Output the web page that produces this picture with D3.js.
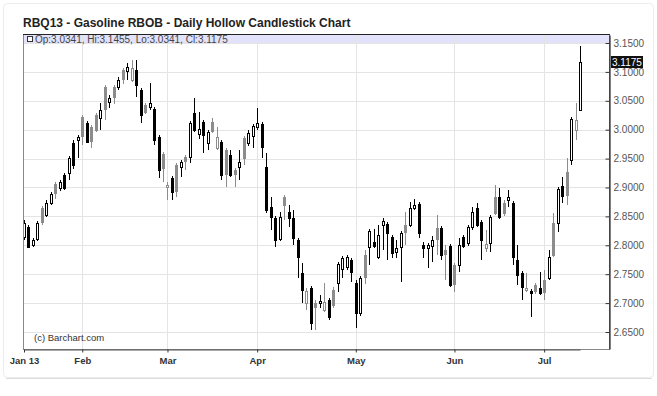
<!DOCTYPE html>
<html lang="en">
<head>
<meta charset="UTF-8">
<title>RBQ13 Hollow Candlestick</title>
<style>
  * { box-sizing: border-box; }
  body { margin: 0; background: #fff; font-family: 'Liberation Sans', Arial, sans-serif; }
  svg text { font-family: 'Liberation Sans', Arial, sans-serif; }
</style>
</head>
<body>
<div id="chart"></div>
<script src="https://cdn.jsdelivr.net/npm/d3@7/dist/d3.min.js"></script>
<script>
// trading days, Jan 14 - Jul 12 2013
const dates = [
  "2013-01-14","2013-01-15","2013-01-16","2013-01-17","2013-01-18","2013-01-22","2013-01-23","2013-01-24","2013-01-25",
  "2013-01-28","2013-01-29","2013-01-30","2013-01-31",
  "2013-02-01","2013-02-04","2013-02-05","2013-02-06","2013-02-07","2013-02-08","2013-02-11","2013-02-12","2013-02-13",
  "2013-02-14","2013-02-15","2013-02-19","2013-02-20","2013-02-21","2013-02-22","2013-02-25","2013-02-26","2013-02-27","2013-02-28",
  "2013-03-01","2013-03-04","2013-03-05","2013-03-06","2013-03-07","2013-03-08","2013-03-11","2013-03-12","2013-03-13",
  "2013-03-14","2013-03-15","2013-03-18","2013-03-19","2013-03-20","2013-03-21","2013-03-22","2013-03-25","2013-03-26","2013-03-27","2013-03-28",
  "2013-04-01","2013-04-02","2013-04-03","2013-04-04","2013-04-05","2013-04-08","2013-04-09","2013-04-10","2013-04-11","2013-04-12",
  "2013-04-15","2013-04-16","2013-04-17","2013-04-18","2013-04-19","2013-04-22","2013-04-23","2013-04-24","2013-04-25","2013-04-26",
  "2013-04-29","2013-04-30",
  "2013-05-01","2013-05-02","2013-05-03","2013-05-06","2013-05-07","2013-05-08","2013-05-09","2013-05-10","2013-05-13","2013-05-14",
  "2013-05-15","2013-05-16","2013-05-17","2013-05-20","2013-05-21","2013-05-22","2013-05-23","2013-05-24","2013-05-28","2013-05-29",
  "2013-05-30","2013-05-31",
  "2013-06-03","2013-06-04","2013-06-05","2013-06-06","2013-06-07","2013-06-10","2013-06-11","2013-06-12","2013-06-13","2013-06-14",
  "2013-06-17","2013-06-18","2013-06-19","2013-06-20","2013-06-21","2013-06-24","2013-06-25","2013-06-26","2013-06-27","2013-06-28",
  "2013-07-01","2013-07-02","2013-07-03","2013-07-05","2013-07-08","2013-07-09","2013-07-10","2013-07-11","2013-07-12"
];

const opens = [
  2.8144,2.8317,2.8006,2.8109,2.8646,2.8525,2.8732,2.9061,2.8992,2.9217,2.9251,2.9770,2.9822,
  3.0220,3.0116,3.0047,3.0255,3.0203,3.0739,3.0479,3.0739,3.0739,3.1033,3.1016,3.0860,3.1033,3.0687,3.0428,3.0393,3.0358,2.9874,2.9580,
  2.9009,2.9165,2.9390,2.9355,2.9528,2.9528,3.0289,2.9926,3.0133,2.9770,3.0133,2.9684,2.9787,2.9649,2.9563,2.9303,2.9355,2.9857,2.9770,2.9891,
  3.0047,3.0099,2.9355,2.8663,2.8473,2.8109,2.8836,2.8576,2.8473,2.8092,2.7521,2.7002,2.7262,2.7002,2.7002,2.6881,2.7054,2.7227,2.7348,2.7590,2.7625,2.7746,
  2.7348,2.6829,2.7833,2.7971,2.8057,2.7798,2.8352,2.8369,2.8144,2.7884,2.7971,2.8352,2.8352,2.8646,2.8715,2.8006,2.7954,2.7988,2.8300,2.8300,2.7919,2.7988,
  2.7660,2.7660,2.8144,2.8040,2.8317,2.8646,2.8403,2.7954,2.8040,2.8836,2.8836,2.8732,2.8784,2.8732,2.7746,2.7521,2.7227,2.7210,2.7314,2.7262,
  2.7400,2.7435,2.8386,2.8386,2.9026,2.9268,2.9476,2.9995,3.0341
];
const highs = [
  2.8438,2.8352,2.8127,2.8421,2.8680,2.8784,2.8922,2.9095,2.9130,2.9251,2.9545,2.9822,2.9909,
  3.0255,3.0151,3.0082,3.0289,3.0462,3.0774,3.0601,3.0774,3.0912,3.1068,3.1154,3.1206,3.1206,3.0722,3.0462,3.0808,3.0393,2.9909,2.9614,
  2.9095,2.9199,2.9424,2.9476,2.9563,3.0151,3.0549,3.0306,3.0168,2.9995,3.0203,3.0047,2.9822,2.9684,2.9649,2.9338,2.9649,2.9891,2.9995,3.0099,
  3.0376,3.0133,2.9597,2.8836,2.8507,2.8576,2.8871,2.8697,2.8611,2.8127,2.7694,2.7262,2.7296,2.7054,2.7141,2.7348,2.7089,2.7279,2.7711,2.7815,2.7833,2.7781,
  2.7400,2.7469,2.7919,2.8282,2.8282,2.8352,2.8473,2.8403,2.8179,2.8092,2.8248,2.8576,2.8749,2.8801,2.8749,2.8057,2.8040,2.8161,2.8525,2.8334,2.8006,2.8023,
  2.7694,2.8127,2.8179,2.8352,2.8663,2.8732,2.8438,2.8265,2.8525,2.9044,2.8992,2.8784,2.8957,2.8767,2.8006,2.7556,2.7521,2.7244,2.7348,2.7538,
  2.7573,2.7919,2.8559,2.9009,2.9182,2.9511,3.0220,3.0462,3.1455
];
const lows = [
  2.8092,2.7954,2.7971,2.8075,2.8352,2.8490,2.8697,2.8801,2.8940,2.8957,2.9130,2.9320,2.9511,
  2.9736,2.9770,2.9684,2.9960,2.9995,3.0168,3.0376,3.0445,3.0687,3.0791,3.0860,3.0825,3.0566,3.0116,3.0272,3.0341,2.9736,2.9165,2.9095,
  2.8784,2.8784,2.8836,2.9182,2.9303,2.9424,2.9960,2.9839,2.9597,2.9649,2.9943,2.9649,2.9130,2.9009,2.9182,2.9009,2.9130,2.9390,2.9718,2.9684,
  2.9995,2.9511,2.8559,2.8265,2.7971,2.8075,2.8438,2.8317,2.8006,2.7435,2.7002,2.6881,2.6535,2.6535,2.6916,2.6846,2.6708,2.6916,2.7192,2.7435,2.7573,2.7365,
  2.6570,2.6777,2.7331,2.7660,2.7954,2.7763,2.7919,2.7746,2.7781,2.7781,2.7365,2.8006,2.8317,2.8611,2.8127,2.7781,2.7608,2.7711,2.7833,2.7746,2.7400,2.7279,
  2.7192,2.7538,2.7954,2.7988,2.8265,2.8317,2.7746,2.7884,2.7884,2.8525,2.8455,2.8507,2.8663,2.7660,2.7314,2.7054,2.7192,2.6760,2.7158,2.7141,
  2.7054,2.7400,2.7798,2.8230,2.8732,2.8697,2.9390,2.9822,3.0341
];
const closes = [
  2.8386,2.7971,2.8092,2.8386,2.8403,2.8732,2.8888,2.8905,2.9095,2.8992,2.9511,2.9390,2.9874,
  2.9891,2.9787,2.9805,2.9995,3.0341,3.0358,3.0549,3.0566,3.0860,3.0877,3.1085,3.1068,3.0774,3.0255,3.0306,3.0462,2.9822,2.9303,2.9338,
  2.9044,2.8922,2.8940,2.9441,2.9459,3.0116,2.9995,3.0012,2.9909,2.9960,2.9978,2.9874,2.9217,2.9234,2.9217,2.9234,2.9441,2.9511,2.9943,3.0064,
  3.0116,2.9701,2.8611,2.8490,2.8092,2.8490,2.8697,2.8473,2.8127,2.7798,2.7227,2.7210,2.6656,2.6933,2.7037,2.7019,2.6760,2.6968,2.7677,2.7781,2.7798,2.7538,
  2.6829,2.7435,2.7452,2.8248,2.7988,2.8179,2.8421,2.8213,2.7867,2.7954,2.8213,2.8230,2.8646,2.8697,2.8213,2.7954,2.8006,2.8092,2.8109,2.7833,2.7850,2.7314,
  2.7331,2.8006,2.7988,2.8317,2.8576,2.8352,2.8092,2.8023,2.8490,2.8559,2.8490,2.8559,2.8836,2.7798,2.7487,2.7279,2.7262,2.7175,2.7210,2.7175,
  2.7192,2.7798,2.7833,2.8974,2.8853,2.8871,3.0185,3.0168,3.1175
];

const priceTicks = [2.65, 2.70, 2.75, 2.80, 2.85, 2.90, 2.95, 3.00, 3.05, 3.10, 3.15];
const monthNames = ["Jan 13", "Feb", "Mar", "Apr", "May", "Jun", "Jul"];

const W = 657, H = 396;
const plotL = 23, plotR = 609, plotT = 34, plotB = 349;

const svg = d3.select('#chart').append('svg').attr('width', W).attr('height', H);

// card outline
svg.append('rect').attr('x', 3.5).attr('y', 3.5).attr('width', 650).attr('height', 374)
  .attr('rx', 4).style('fill', '#fff').style('stroke', '#ececec');
svg.append('line').attr('x1', 6).attr('x2', 652).attr('y1', 378.5).attr('y2', 378.5).style('stroke', '#dcdcdc');

svg.append('text').attr('x', 23).attr('y', 27)
  .style('font-size', '12px').style('font-weight', 'bold').style('fill', '#222')
  .text('RBQ13 - Gasoline RBOB - Daily Hollow Candlestick Chart');

const x = d3.scalePoint().domain(dates).range([24, 580]);
const y = d3.scaleLinear().domain([2.6206, 3.1638]).range([plotB, plotT + 1]);

// first trading day of each month
const monthStarts = dates.filter((d, i) => i === 0 || d.slice(5, 7) !== dates[i - 1].slice(5, 7));

// blue band
svg.append('rect').attr('x', plotL).attr('y', plotT).attr('width', plotR - plotL).attr('height', y(3.15) - plotT + 1)
  .style('fill', '#e2e2fb');

// grid
const grid = svg.append('g').attr('shape-rendering', 'crispEdges');
grid.selectAll('.hg').data(priceTicks).join('line')
  .attr('x1', plotL).attr('x2', plotR)
  .attr('y1', d => Math.round(y(d)) + 0.5).attr('y2', d => Math.round(y(d)) + 0.5)
  .style('stroke', '#e4e4e4');
grid.selectAll('.vg').data(monthStarts.slice(1)).join('line')
  .attr('x1', d => Math.round(x(d)) + 0.5).attr('x2', d => Math.round(x(d)) + 0.5)
  .attr('y1', plotT).attr('y2', plotB)
  .style('stroke', '#e4e4e4');

// legend line
svg.append('rect').attr('x', 27.5).attr('y', 36.5).attr('width', 5).attr('height', 5)
  .style('fill', '#fff').style('stroke', '#333');
const last = dates.length - 1;
svg.append('text').attr('x', 35).attr('y', 42.5)
  .style('font-size', '10px').style('fill', '#444')
  .text(`Op:${opens[last].toFixed(4)}, Hi:${highs[last].toFixed(4)}, Lo:${lows[last].toFixed(4)}, Cl:${closes[last].toFixed(4)}`);

svg.append('text').attr('x', 34).attr('y', 341)
  .style('font-size', '9.5px').style('fill', '#333').text('(c) Barchart.com');

// candles
const candles = svg.append('g').attr('shape-rendering', 'crispEdges');
dates.forEach((d, i) => {
  const o = opens[i], h = highs[i], l = lows[i], c = closes[i];
  const hollow = c > o;
  const up = i === 0 ? true : c >= closes[i - 1];
  const col = hollow === up ? '#000' : '#8c8c8c';
  const cx = Math.round(x(d));
  candles.append('line')
    .attr('x1', cx + 0.5).attr('x2', cx + 0.5)
    .attr('y1', y(h)).attr('y2', y(l))
    .style('stroke', col);
  const y0 = Math.round(y(Math.max(o, c))), y1 = Math.round(y(Math.min(o, c)));
  candles.append('rect')
    .attr('x', cx - 0.5).attr('width', 2)
    .attr('y', y0 + 0.5).attr('height', Math.max(1, y1 - y0))
    .style('fill', hollow ? '#fff' : col).style('stroke', col);
});

// frame
svg.append('rect').attr('x', plotL + 0.5).attr('y', plotT + 0.5)
  .attr('width', plotR - plotL).attr('height', plotB - plotT)
  .style('fill', 'none').style('stroke', '#888').attr('shape-rendering', 'crispEdges');
svg.append('line').attr('x1', plotL).attr('x2', plotR + 1).attr('y1', plotT + 0.5).attr('y2', plotT + 0.5)
  .style('stroke', '#222').attr('shape-rendering', 'crispEdges');

// right axis
const yAxis = d3.axisRight(y).tickValues(priceTicks).tickFormat(d3.format('.4f'))
  .tickSizeInner(-4).tickSizeOuter(0).tickPadding(4);
const ya = svg.append('g').attr('transform', `translate(${plotR + 0.5},0)`).call(yAxis);
ya.select('.domain').style('stroke', '#000');
ya.selectAll('.tick line').style('stroke', '#333');
ya.selectAll('.tick text').style('font-size', '10px').style('fill', '#555')
  .style('font-family', "'Liberation Sans', Arial, sans-serif");

// last price marker
const lastY = y(closes[last]);
svg.append('rect').attr('x', 611).attr('y', Math.round(lastY) - 6).attr('width', 32).attr('height', 12)
  .style('fill', '#111');
svg.append('text').attr('x', 612).attr('y', Math.round(lastY) + 4)
  .style('font-size', '10px').style('fill', '#fff').text(d3.format('.4f')(closes[last]));

// bottom axis
const xAxis = d3.axisBottom(x).tickValues(monthStarts)
  .tickFormat(d => monthNames[+d.slice(5, 7) - 1])
  .tickSizeInner(3).tickSizeOuter(0).tickPadding(5);
const xa = svg.append('g').attr('transform', `translate(0,${plotB + 0.5})`).call(xAxis);
xa.select('.domain').style('stroke', '#555');
xa.selectAll('.tick line').style('stroke', '#333');
xa.selectAll('.tick text').style('font-size', '9.5px').style('font-weight', 'bold').style('fill', '#333')
  .style('font-family', "'Liberation Sans', Arial, sans-serif");
</script>
</body>
</html>
